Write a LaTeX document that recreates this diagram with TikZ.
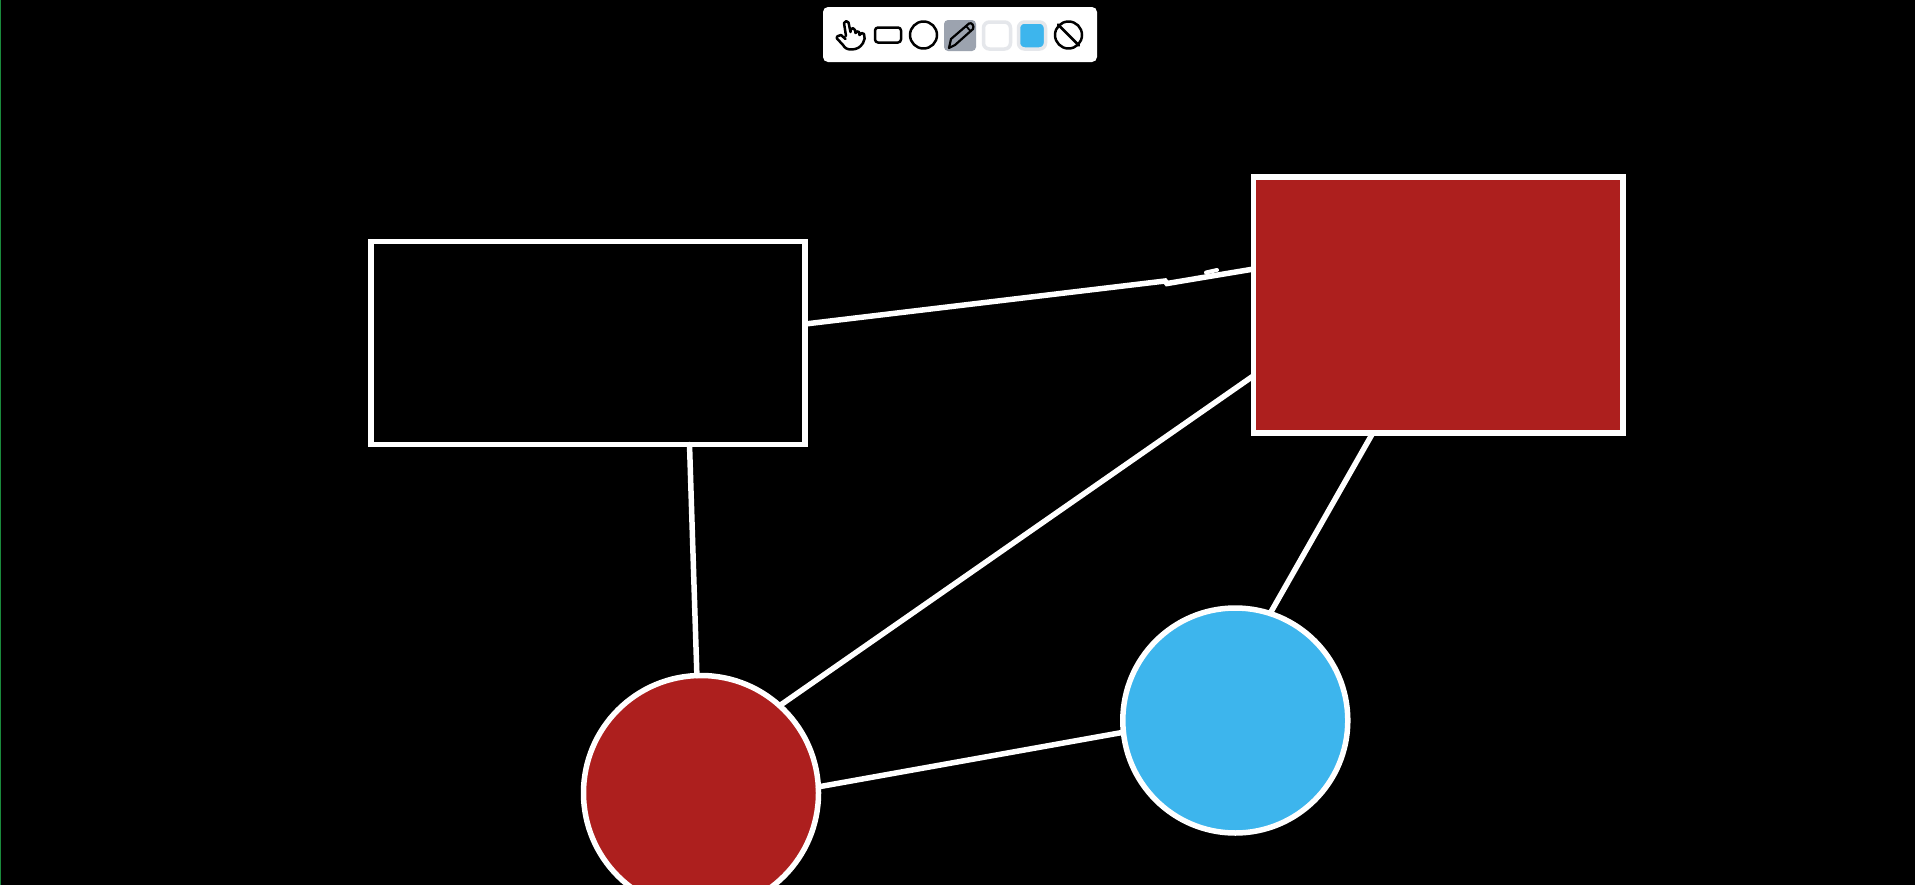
\documentclass[tikz,border=0pt]{standalone}
\usepackage{tikz}
\definecolor{sketchred}{HTML}{AD1F1E}
\definecolor{sketchblue}{HTML}{3DB5ED}
\definecolor{toolgray}{HTML}{9CA3AF}
\definecolor{swatchrim}{HTML}{E5E7EB}
\definecolor{edgegreen}{HTML}{1A8A3C}

\begin{document}
\begin{tikzpicture}[x=1pt,y=-1pt,
shapeline/.style={draw=white,line width=5.5pt,outer sep=0pt,inner sep=0pt},
box/.style={shapeline,rectangle},
disc/.style={shapeline,circle},
link/.style={draw=white,line width=5.5pt,line cap=round},
icon/.style={draw=black,line width=2.5pt,line cap=round,line join=round},
swatch/.style={draw=swatchrim,line width=3.5pt,rounded corners=6pt,minimum width=27pt,minimum height=27pt,inner sep=0pt,outer sep=0pt}]
\useasboundingbox (0,0) rectangle (1915,884);
\fill[black] (-5,-5) rectangle (1920,889);
\fill[edgegreen] (-5,-5) rectangle (1.2,889);
% shapes
\node[box,minimum width=434pt,minimum height=203pt] (boxa) at (588,343) {};
\node[box,fill=sketchred,minimum width=369.5pt,minimum height=256pt] (boxb) at (1438,305) {};
\node[disc,fill=sketchred,minimum size=235pt] (reddisc) at (701,793) {};
\node[disc,fill=sketchblue,minimum size=225pt] (bluedisc) at (1235.3,720.5) {};
% links
\coordinate (kinka) at (1165,281);
\coordinate (kinkb) at (1167,283.5);
\coordinate (bumpb) at (1206,272.5);
\coordinate (bumpc) at (1217,270);
\draw[link] (boxa.5.2)--(kinka)--(kinkb)--(boxb.169.3);
\draw[white,line width=4pt,line cap=round] (bumpb)--(bumpc);
\draw[link] (boxa.-45)--(reddisc.92.4);
\draw[link] (boxb.201.7)--(reddisc.48.4);
\draw[link] (boxb.243.3)--(bluedisc.72.2);
\draw[link] (reddisc.3.4)--(bluedisc.186);
% toolbar
\node[fill=white,rounded corners=5pt,minimum width=274pt,minimum height=55pt,inner sep=0pt] (toolbar) at (960,34.5) {};
\node[icon,rectangle,rounded corners=3pt,minimum width=26pt,minimum height=15pt,inner sep=0pt] (recttool) at (888,35) {};
\node[icon,circle,minimum size=27pt,inner sep=0pt] (circletool) at (923.5,35) {};
\node[fill=toolgray,rounded corners=4pt,minimum width=32pt,minimum height=31pt,inner sep=0pt] (penbg) at (960,35.5) {};
\node[swatch,fill=white] (whiteswatch) at (997,35.5) {};
\node[swatch,fill=sketchblue] (blueswatch) at (1032,35.5) {};
\node[icon,circle,minimum size=27pt,inner sep=0pt] (notool) at (1068.5,35) {};
\draw[icon] (notool.135)--(notool.-45);
% pen
\draw[icon,line width=2.2pt] (949,48)--(951,39)--(969,23.5) to[out=30,in=60,looseness=1.2] (973,29)--(955,45)--cycle;
\draw[icon,line width=1.8pt] (966,26)--(970.5,31);
% hand
\draw[icon] (846,36)--(844,23) to[out=70,in=110,looseness=1.3] (848.5,22.5)--(850.5,32)--(851,29) to[out=60,in=120,looseness=1.2] (855,30)--(855.5,33) to[out=60,in=120,looseness=1.2] (859,32)--(859.5,35) to[out=60,in=110,looseness=1.2] (864,34)
 to[out=-70,in=60] (863,43) to[out=-120,in=0] (851,49.5) to[out=180,in=-60] (843,45) -- (837,38.5) to[out=130,in=180] (841,35)--(845.5,39);
\end{tikzpicture}
\end{document}
